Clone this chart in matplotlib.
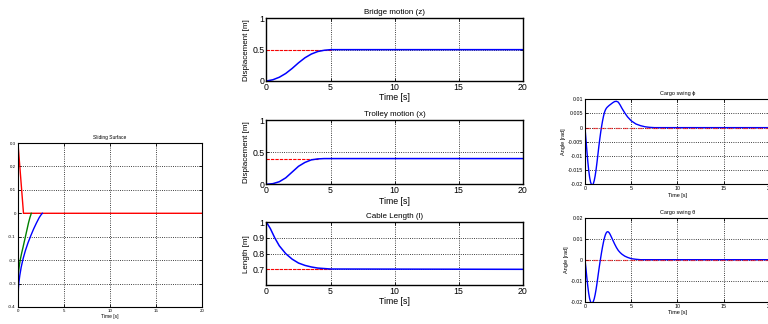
"""Gantry crane sliding-mode control responses."""

import matplotlib
matplotlib.use("Agg")
import matplotlib.pyplot as plt
from matplotlib.ticker import FuncFormatter

plt.rcParams["font.family"] = ["Liberation Sans", "DejaVu Sans"]

# sliding surface
s_red_t = [0.0, 0.6, 1.4, 20.0]
s_red = [0.3, 0.0, 0.0, 0.0]
s_green_t = [0.0, 0.03, 0.08, 0.15, 0.25, 0.4, 0.55, 0.75, 0.95, 1.15, 1.3, 1.45]
s_green = [-0.3, -0.27, -0.245, -0.222, -0.198, -0.17, -0.145, -0.11, -0.075,
           -0.04, -0.018, 0.0]
s_blue_t = [0.0, 0.02, 0.05, 0.1, 0.2, 0.35, 0.55, 0.8, 1.1, 1.4, 1.7, 2.0,
            2.3, 2.5, 2.65]
s_blue = [-0.4, -0.35, -0.32, -0.295, -0.265, -0.23, -0.195, -0.16, -0.125,
          -0.095, -0.067, -0.042, -0.019, -0.007, 0.0]

# bridge motion z
z_t = [0, 0.5, 1.0, 1.5, 2.0, 2.5, 3.0, 3.5, 4.0, 4.5, 5.0, 20]
z = [0, 0.02, 0.06, 0.12, 0.2, 0.29, 0.37, 0.43, 0.47, 0.49, 0.5, 0.5]
z_ref_t = [0, 5]
z_ref = [0.5, 0.5]

# trolley motion x
x_t = [0, 0.5, 1.0, 1.5, 2.0, 2.5, 3.0, 3.5, 4.0, 4.5, 20]
x = [0, 0.01, 0.04, 0.1, 0.19, 0.28, 0.34, 0.38, 0.395, 0.4, 0.4]
x_ref_t = [0, 4]
x_ref = [0.4, 0.4]

# cable length l
l_t = [0, 0.3, 0.65, 1.0, 1.5, 2.0, 2.5, 3.0, 3.5, 4.0, 5.0, 20]
l = [1.0, 0.96, 0.9, 0.85, 0.8, 0.765, 0.74, 0.725, 0.715, 0.708, 0.702, 0.7]
l_ref_t = [0, 5]
l_ref = [0.7, 0.7]

# cargo swing phi
phi_t = [0, 0.1, 0.2, 0.3, 0.4, 0.5, 0.6, 0.7, 0.8, 0.9, 1.0, 1.1, 1.2, 1.3,
         1.4, 1.5, 1.6, 1.7, 1.8, 1.9, 2.0, 2.1, 2.2, 2.3, 2.4, 2.5, 2.6, 2.8,
         3.0, 3.2, 3.4, 3.6, 3.8, 4.0, 4.3, 4.6, 5.0, 5.5, 6.0, 6.5, 7.0, 7.5, 20]
phi = [0, -0.004, -0.008, -0.0118, -0.015, -0.0175, -0.0192, -0.0201, -0.0203,
       -0.0198, -0.0187, -0.017, -0.0148, -0.0122, -0.0094, -0.0066, -0.004,
       -0.0016, 0.0005, 0.0024, 0.004, 0.0053, 0.0062, 0.0068, 0.0072, 0.0075,
       0.0078, 0.0083, 0.0088, 0.0092, 0.0093, 0.009, 0.008, 0.0068, 0.0052,
       0.0038, 0.0024, 0.0013, 0.0007, 0.0003, 0.0001, 0.0, 0.0]

# cargo swing theta
theta_t = [0, 0.1, 0.2, 0.3, 0.4, 0.5, 0.6, 0.7, 0.8, 0.9, 1.0, 1.1, 1.2, 1.3,
           1.4, 1.5, 1.6, 1.7, 1.8, 1.9, 2.0, 2.1, 2.2, 2.3, 2.4, 2.5, 2.6, 2.7,
           2.8, 3.0, 3.2, 3.4, 3.6, 3.8, 4.0, 4.3, 4.6, 5.0, 5.5, 6.0, 20]
theta = [0, -0.004, -0.0085, -0.0125, -0.016, -0.0185, -0.02, -0.0207, -0.0206,
         -0.0199, -0.0186, -0.0166, -0.0141, -0.0112, -0.008, -0.0048, -0.0018,
         0.001, 0.0037, 0.0062, 0.0084, 0.0103, 0.0118, 0.0128, 0.0133, 0.0133,
         0.0129, 0.0122, 0.0113, 0.0094, 0.0075, 0.0058, 0.0044, 0.0034, 0.0026,
         0.0017, 0.0011, 0.0005, 0.0002, 0.0, 0.0]
ang_ref_t = [0, 20]
ang_ref = [0, 0]

fmt = FuncFormatter(lambda v, _: f"{v:g}")


def style(ax, fs, lw=0.8):
    ax.grid(True, color="black", linestyle=":", linewidth=0.6)
    ax.tick_params(direction="in", top=True, right=True, labelsize=fs,
                   length=2, width=0.6, pad=1.5)
    for sp in ax.spines.values():
        sp.set_linewidth(lw)
    ax.yaxis.set_major_formatter(fmt)
    ax.xaxis.set_major_formatter(fmt)
    ax.set_xlim(0, 20)
    ax.set_xticks([0, 5, 10, 15, 20])


fig = plt.figure(figsize=(7.68, 3.24), dpi=100)

# left: sliding surface
ax = fig.add_axes([0.0234, 0.0525, 0.2396, 0.5061])
ax.plot(s_red_t, s_red, color="red", lw=1.0)
ax.plot(s_green_t, s_green, color="green", lw=1.0)
ax.plot(s_blue_t, s_blue, color="blue", lw=1.0)
style(ax, 3.2)
ax.set_ylim(-0.4, 0.3)
ax.set_yticks([-0.4, -0.3, -0.2, -0.1, 0, 0.1, 0.2, 0.3])
ax.set_title("Sliding Surface", fontsize=3.5, pad=3)
ax.set_xlabel("Time [s]", fontsize=3.5, labelpad=1)

# middle column
mid = [
    ([0.347, 0.75, 0.3336, 0.1935], z_t, z, z_ref_t, z_ref, "Bridge motion (z)", "Displacement [m]"),
    ([0.347, 0.4312, 0.3336, 0.1984], x_t, x, x_ref_t, x_ref, "Trolley motion (x)", "Displacement [m]"),
    ([0.347, 0.1204, 0.3336, 0.1935], l_t, l, l_ref_t, l_ref, "Cable Length (l)", "Length [m]"),
]
for i, (pos, t, y, rt, ry, title, ylab) in enumerate(mid):
    ax = fig.add_axes(pos)
    ax.plot(rt, ry, color="red", lw=0.8, dashes=(3, 1))
    ax.plot(t, y, color="blue", lw=1.1)
    style(ax, 6.3, lw=1.0)
    if i < 2:
        ax.set_ylim(0, 1)
        ax.set_yticks([0, 0.5, 1])
    else:
        ax.set_ylim(0.6, 1)
        ax.set_yticks([0.7, 0.8, 0.9, 1])
    ax.set_title(title, fontsize=5.8, pad=3)
    ax.set_xlabel("Time [s]", fontsize=6.3, labelpad=1)
    ax.set_ylabel(ylab, fontsize=5.8, labelpad=2)

# right column: cargo swing
right = [
    ([0.7617, 0.4312, 0.2409, 0.2623], phi_t, phi, "Cargo swing \u03d5",
     (-0.02, 0.01), [-0.02, -0.015, -0.01, -0.005, 0, 0.005, 0.01]),
    ([0.7617, 0.0688, 0.2409, 0.2593], theta_t, theta, "Cargo swing \u03b8",
     (-0.02, 0.02), [-0.02, -0.01, 0, 0.01, 0.02]),
]
for pos, t, y, title, ylim, yt in right:
    ax = fig.add_axes(pos)
    ax.plot(t, y, color="blue", lw=1.0)
    ax.plot(ang_ref_t, ang_ref, color="red", lw=0.9, dashes=(4, 2), alpha=0.6)
    style(ax, 3.8)
    ax.set_ylim(*ylim)
    ax.set_yticks(yt)
    ax.set_title(title, fontsize=4, pad=3)
    ax.set_xlabel("Time [s]", fontsize=4, labelpad=1)
    ax.set_ylabel("Angle [rad]", fontsize=4, labelpad=1.5)

fig.savefig("out.png", dpi=100)
